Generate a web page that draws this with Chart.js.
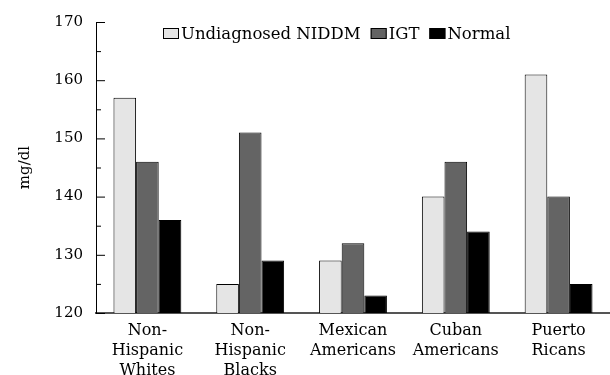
<!DOCTYPE html>
<html>
<head>
<meta charset="utf-8">
<script src="https://cdn.jsdelivr.net/npm/chart.js@4/dist/chart.umd.min.js"></script>
<style>
  html, body { margin: 0; padding: 0; background: #fff; }
  #wrap { width: 610px; height: 375px; }
</style>
</head>
<body>
<div id="wrap"><canvas id="glucoseChart"></canvas></div>
<script>
const groups = [
    ['Non-', 'Hispanic', 'Whites'],
    ['Non-', 'Hispanic', 'Blacks'],
    ['Mexican', 'Americans'],
    ['Cuban', 'Americans'],
    ['Puerto', 'Ricans']
];
const undiagnosed = [157, 125, 129, 140, 161];
const igt = [146, 151, 132, 146, 140];
const normal = [136, 129, 123, 134, 125];
const yTicks = [120, 130, 140, 150, 160, 170];

const serif = '"DejaVu Serif", serif';

// short tick marks drawn on the inside of the y axis, majors and halfway minors
const innerTicks = {
    id: 'innerTicks',
    afterDraw(chart) {
        const y = chart.scales.y;
        const ctx = chart.ctx;
        const x0 = y.right;
        ctx.save();
        ctx.strokeStyle = '#000';
        ctx.lineWidth = 1;
        for (let i = 0; i < yTicks.length; i++) {
            const major = y.getPixelForValue(yTicks[i]);
            ctx.beginPath();
            ctx.moveTo(x0, major + 0.5);
            ctx.lineTo(x0 + 9, major + 0.5);
            ctx.stroke();
            if (i < yTicks.length - 1) {
                const minor = y.getPixelForValue((yTicks[i] + yTicks[i + 1]) / 2);
                ctx.beginPath();
                ctx.moveTo(x0, minor + 0.5);
                ctx.lineTo(x0 + 5, minor + 0.5);
                ctx.stroke();
            }
        }
        ctx.restore();
    }
};

// one-row legend sitting inside the plot, near the top
const innerLegend = {
    id: 'innerLegend',
    afterDraw(chart) {
        const ctx = chart.ctx;
        let x = 163;
        const baseline = 39;
        ctx.save();
        ctx.font = '16.5px ' + serif;
        ctx.textBaseline = 'alphabetic';
        ctx.textAlign = 'left';
        chart.data.datasets.forEach(ds => {
            ctx.fillStyle = ds.backgroundColor;
            ctx.fillRect(x, baseline - 11, 16, 11);
            ctx.strokeStyle = '#000';
            ctx.lineWidth = 1;
            ctx.strokeRect(x + 0.5, baseline - 10.5, 15, 10);
            ctx.fillStyle = '#000';
            ctx.fillText(ds.label, x + 18, baseline);
            x += 18 + ctx.measureText(ds.label).width + 10;
        });
        ctx.restore();
    }
};

const ctx = document.getElementById('glucoseChart').getContext('2d');
new Chart(ctx, {
    type: 'bar',
    data: {
        labels: groups,
        datasets: [{
            label: 'Undiagnosed NIDDM',
            data: undiagnosed,
            backgroundColor: '#e5e5e5',
            borderColor: '#000',
            borderWidth: 1
        }, {
            label: 'IGT',
            data: igt,
            backgroundColor: '#646464',
            borderColor: '#000',
            borderWidth: 1
        }, {
            label: 'Normal',
            data: normal,
            backgroundColor: '#000',
            borderColor: '#000',
            borderWidth: 1
        }]
    },
    options: {
        responsive: true,
        maintainAspectRatio: false,
        animation: false,
        layout: { padding: { top: 21, right: 0, left: 0, bottom: 0 } },
        datasets: {
            bar: { categoryPercentage: 0.66, barPercentage: 1.0 }
        },
        plugins: {
            tooltip: { enabled: false },
            legend: { display: false }
        },
        scales: {
            x: {
                grid: { display: false },
                border: { display: true, color: '#555', width: 2 },
                ticks: {
                    color: '#000',
                    padding: 0,
                    maxRotation: 0,
                    autoSkip: false,
                    font: { family: serif, size: 16, lineHeight: 1.25 }
                },
                afterFit(scale) { scale.height = 62; }
            },
            y: {
                min: 120,
                max: 170,
                ticks: {
                    stepSize: 10,
                    color: '#000',
                    padding: 13,
                    font: { family: serif, size: 15 }
                },
                grid: { drawOnChartArea: false, drawTicks: false },
                border: { display: true, color: '#000', width: 1 },
                title: {
                    display: true,
                    text: 'mg/dl',
                    color: '#000',
                    padding: { top: 16, bottom: 0 },
                    font: { family: serif, size: 15 }
                },
                afterFit(scale) { scale.width = 96; }
            }
        }
    },
    plugins: [innerTicks, innerLegend]
});
</script>
</body>
</html>
